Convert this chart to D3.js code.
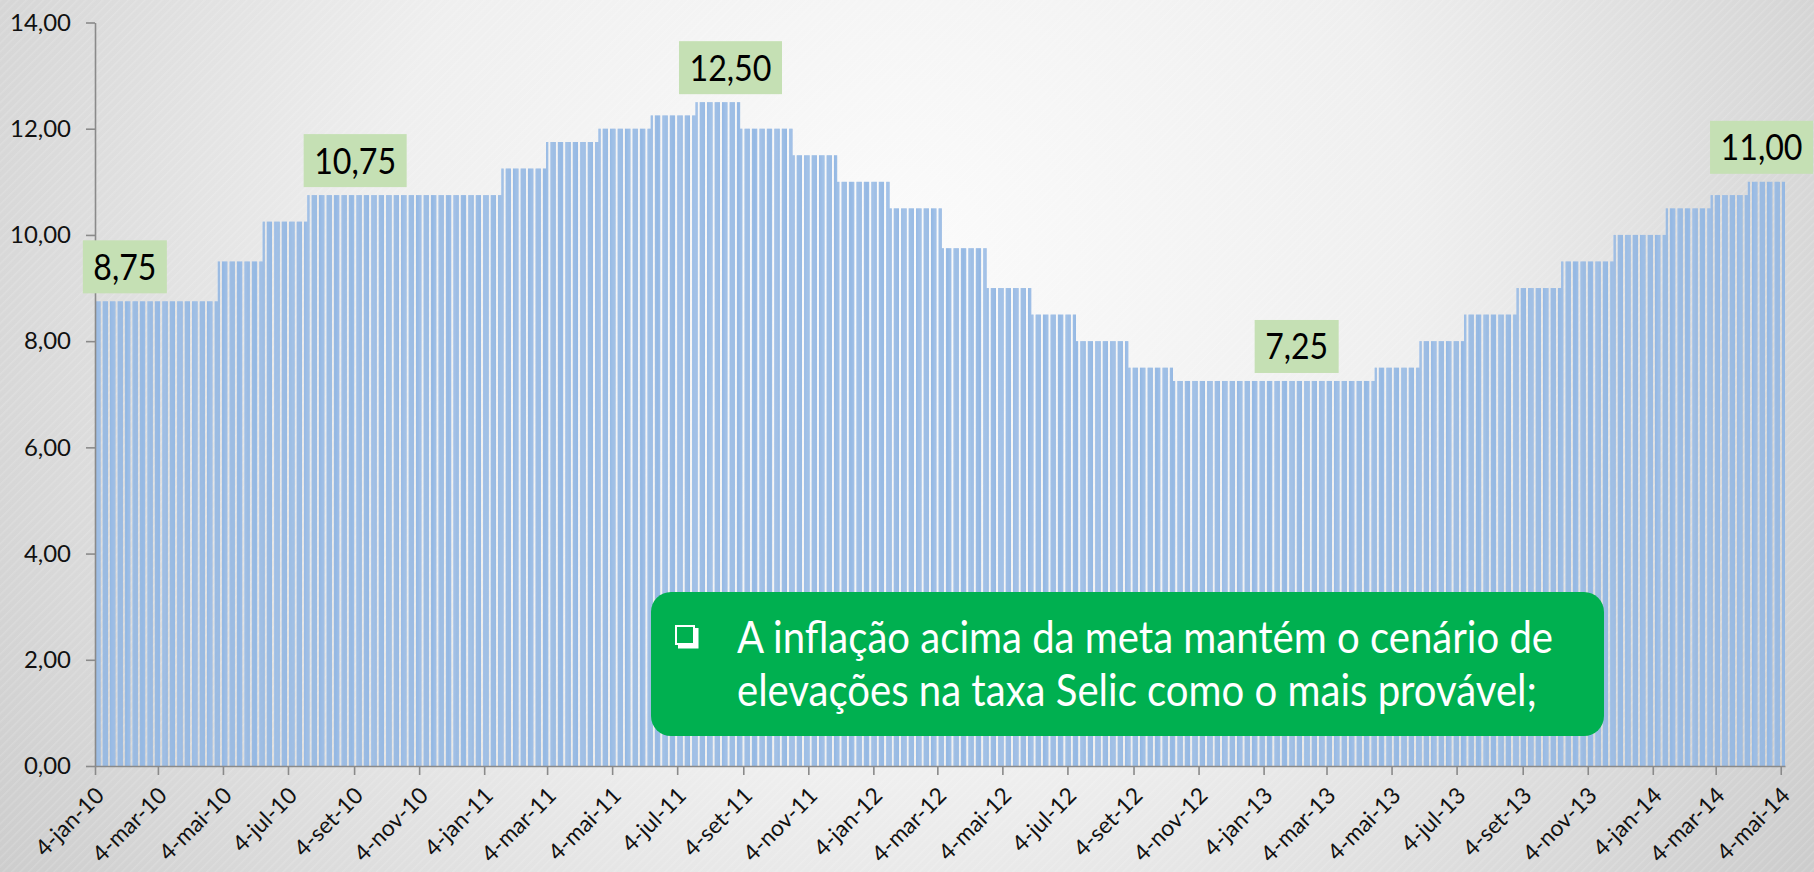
<!DOCTYPE html>
<html><head><meta charset="utf-8">
<script src="https://cdn.jsdelivr.net/npm/d3@7"></script>
<style>html,body{margin:0;padding:0;overflow:hidden;background:#e4e4e4}</style>
</head><body>
<svg id="chart" width="1814" height="872"></svg>
<script>
// ---- DATA ----
// Selic target changes (effective date) and rate (% a.a.)
const changeDates = ["2010-01-04","2010-04-29","2010-06-10","2010-07-22","2011-01-20","2011-03-03","2011-04-21","2011-06-09","2011-07-21","2011-09-01","2011-10-20","2011-12-01","2012-01-19","2012-03-08","2012-04-19","2012-05-31","2012-07-12","2012-08-30","2012-10-11","2013-04-18","2013-05-30","2013-07-11","2013-08-29","2013-10-10","2013-11-28","2014-01-16","2014-02-27","2014-04-03"];
const rates = [8.75,9.50,10.25,10.75,11.25,11.75,12.00,12.25,12.50,12.00,11.50,11.00,10.50,9.75,9.00,8.50,8.00,7.50,7.25,7.50,8.00,8.50,9.00,9.50,10.00,10.50,10.75,11.00];
const lastDate = "2014-05-07";
const yTicks = [0,2,4,6,8,10,12,14];
const xTickLabels = ["4-jan-10","4-mar-10","4-mai-10","4-jul-10","4-set-10","4-nov-10","4-jan-11","4-mar-11","4-mai-11","4-jul-11","4-set-11","4-nov-11","4-jan-12","4-mar-12","4-mai-12","4-jul-12","4-set-12","4-nov-12","4-jan-13","4-mar-13","4-mai-13","4-jul-13","4-set-13","4-nov-13","4-jan-14","4-mar-14","4-mai-14"];
const labelDates = ["2010-02-01","2010-09-05","2011-08-23","2013-02-04","2014-04-16"];
const labelValues = [8.75,10.75,12.50,7.25,11.00];
const noteLines = ["A inflação acima da meta mantém o cenário de","elevações na taxa Selic como o mais provável;"];

// ---- SETUP ----
const W = 1814, H = 872;
const svg = d3.select("#chart");
const parse = d3.timeParse("%Y-%m-%d");
const monthMap = {jan:0,fev:1,mar:2,abr:3,mai:4,jun:5,jul:6,ago:7,set:8,out:9,nov:10,dez:11};
const tickDates = xTickLabels.map(s => { const p = s.split("-"); return new Date(2000 + +p[2], monthMap[p[1]], +p[0]); });
const changes = changeDates.map(parse);
const startD = changes[0], endD = parse(lastDate);

const x = d3.scaleTime().domain([startD, d3.timeDay.offset(endD, 1)]).range([95, 1785]);
const y = d3.scaleLinear().domain([0, 14]).range([766, 22.5]);
const fmt = v => v.toFixed(2).replace(".", ",");
const FONT = "Lato, 'Open Sans', sans-serif";

// background
const defs = svg.append("defs");
const rg = defs.append("radialGradient").attr("id","bg").attr("gradientUnits","userSpaceOnUse")
  .attr("cx",900).attr("cy",260).attr("r",1150);
rg.append("stop").attr("offset",0).attr("stop-color","#fbfbfb");
rg.append("stop").attr("offset",0.45).attr("stop-color","#efefef");
rg.append("stop").attr("offset",1).attr("stop-color","#c9c9c9");
const pat = defs.append("pattern").attr("id","tex").attr("patternUnits","userSpaceOnUse")
  .attr("width",6).attr("height",6).attr("patternTransform","rotate(45)");
pat.append("rect").attr("width",1.5).attr("height",6).attr("fill","#ffffff").attr("opacity",0.14);
svg.append("rect").attr("width",W).attr("height",H).attr("fill","url(#bg)");
svg.append("rect").attr("width",W).attr("height",H).attr("fill","url(#tex)");

// daily bars (business days)
const days = d3.timeDay.range(startD, d3.timeDay.offset(endD, 1)).filter(d => d.getDay() > 0 && d.getDay() < 6);
const rateAt = d => rates[d3.bisectRight(changes, d) - 1];
const barG = svg.append("g");
barG.selectAll("rect.bar").data(days).join("rect").attr("class","bar")
  .attr("x", d => x(d))
  .attr("width", d => x(d3.timeDay.offset(d, 1)) - x(d))
  .attr("y", d => y(rateAt(d)))
  .attr("height", d => y(0) - y(rateAt(d)))
  .attr("fill", "#aecaec");
barG.selectAll("rect.edge").data(days).join("rect").attr("class","edge")
  .attr("x", d => x(d3.timeDay.offset(d, 1)) - 0.45)
  .attr("width", 0.45)
  .attr("y", d => y(rateAt(d)))
  .attr("height", d => y(0) - y(rateAt(d)))
  .attr("fill", "#78a4da");

// axes
const yAxisG = svg.append("g").attr("transform","translate(95,0)")
  .call(d3.axisLeft(y).tickValues(yTicks).tickFormat(fmt).tickSize(9).tickPadding(15).tickSizeOuter(0));
const xAxisG = svg.append("g").attr("transform","translate(0,766)")
  .call(d3.axisBottom(x).tickValues(tickDates).tickFormat((d,i) => xTickLabels[i]).tickSize(9).tickSizeOuter(0));
[yAxisG, xAxisG].forEach(g => {
  g.select(".domain").attr("stroke","#8a8a8a").attr("stroke-width",1.6);
  g.selectAll(".tick line").attr("stroke","#8a8a8a").attr("stroke-width",1.6);
  g.selectAll("text").attr("font-family",FONT).attr("fill","#111").attr("font-size",22);
});
// base size from "14,00" ~ 61px wide
const probe = yAxisG.selectAll(".tick text").filter(d => d === 14);
const AXFS = 22 * 61 / probe.node().getComputedTextLength();
yAxisG.selectAll(".tick text").attr("font-size", AXFS);
xAxisG.selectAll(".tick text").attr("font-size", AXFS * 0.95)
  .attr("text-anchor","end").attr("x",0).attr("y",0).attr("dy",0)
  .attr("transform","translate(10,31) rotate(-45)");

// data labels
const GROW = 1.12;
const lg = svg.append("g");
labelDates.forEach((ds, i) => {
  const cx = x(parse(ds));
  const bot = y(labelValues[i]) - 8;
  const t = lg.append("text").attr("font-family",FONT).attr("font-size",30).text(fmt(labelValues[i]));
  const tw = labelValues[i] >= 10 ? 82 : 63;
  const fs = 30 * tw / t.node().getComputedTextLength() * GROW;
  t.attr("font-size", fs).attr("textLength", tw).attr("lengthAdjust","spacingAndGlyphs");
  const bw = tw + 21, bh = 53;
  lg.insert("rect", () => t.node()).attr("x", cx - bw/2).attr("y", bot - bh).attr("width", bw).attr("height", bh).attr("fill","#c5e0b4");
  t.attr("x", cx - tw/2).attr("y", bot - bh/2).attr("dy","0.36em").attr("text-anchor","start").attr("fill","#000");
});

// note box
const nb = svg.append("g");
nb.append("rect").attr("x",651).attr("y",592).attr("width",953).attr("height",144).attr("rx",20).attr("ry",20).attr("fill","#00b050");
const l1 = nb.append("text").attr("font-family",FONT).attr("font-size",40).attr("fill","#fff").text(noteLines[0]);
const w1n = l1.node().getComputedTextLength();
const target1 = 816;
const nfs = 40 * target1 / w1n * GROW;
l1.attr("font-size", nfs).attr("textLength", target1).attr("lengthAdjust","spacingAndGlyphs").attr("x", 737).attr("y", 653);
const l2 = nb.append("text").attr("font-family",FONT).attr("font-size",40).attr("fill","#fff").text(noteLines[1]);
const w2n = l2.node().getComputedTextLength();
l2.attr("font-size", nfs).attr("textLength", w2n * target1 / w1n).attr("lengthAdjust","spacingAndGlyphs")
  .attr("x", 737).attr("y", 706);
// bullet (shadowed white square)
nb.append("rect").attr("x",676).attr("y",626).attr("width",18).attr("height",18).attr("fill","none").attr("stroke","#fff").attr("stroke-width",2);
nb.append("path").attr("d","M678,646.5 L696.5,646.5 L696.5,628").attr("fill","none").attr("stroke","#fff").attr("stroke-width",4);
</script>
</body></html>
